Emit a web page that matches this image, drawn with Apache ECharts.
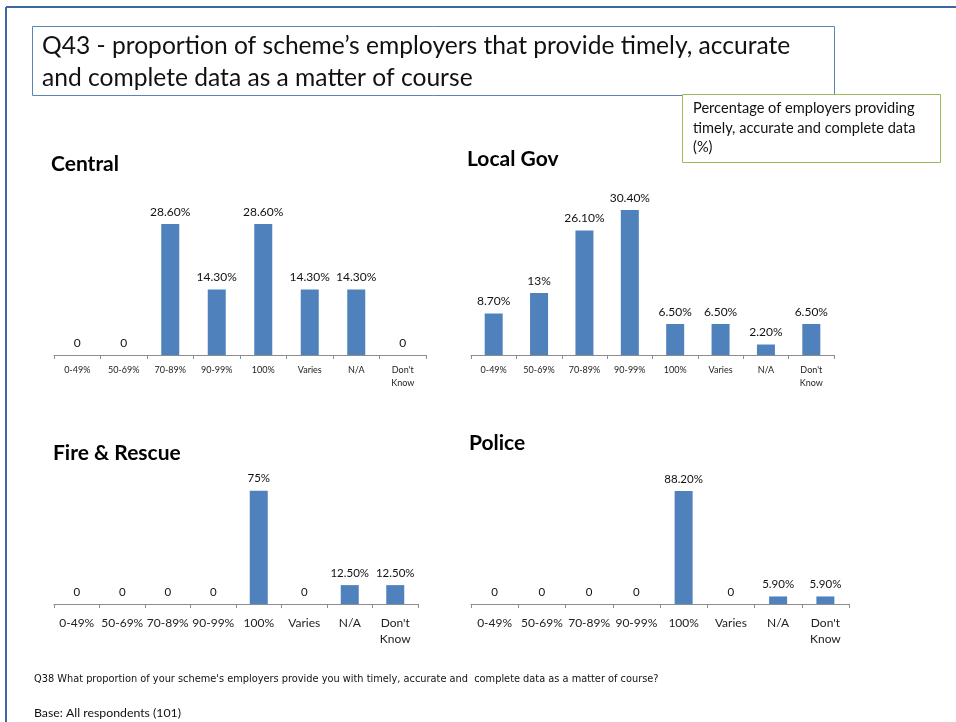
<!DOCTYPE html>
<html>
<head>
<meta charset="utf-8">
<script src="https://cdn.jsdelivr.net/npm/echarts@6/dist/echarts.min.js"></script>
<style>
html,body{margin:0;padding:0;background:#fff;}
#main{width:956px;height:722px;}
</style>
</head>
<body>
<div id="main"></div>
<script>
var categories = ['0-49%', '50-69%', '70-89%', '90-99%', '100%', 'Varies', 'N/A', "Don't\nKnow"];
var panelTitles = ['Central', 'Local Gov', 'Fire & Rescue', 'Police'];
var centralValues = [0, 0, 28.6, 14.3, 28.6, 14.3, 14.3, 0];
var localGovValues = [8.7, 13, 26.1, 30.4, 6.5, 6.5, 2.2, 6.5];
var fireRescueValues = [0, 0, 0, 0, 75, 0, 12.5, 12.5];
var policeValues = [0, 0, 0, 0, 88.2, 0, 5.9, 5.9];
var yMax = [30, 32, 80, 90];

var FONT = 'Lato, "Noto Sans", sans-serif';
var BLUE = '#4F81BD';

function fmt(p) {
  var v = p.value;
  if (v === 0) return '0';
  if (Math.round(v) === v) return v + '%';
  return v.toFixed(2) + '%';
}

// layout: [left, width, axisY, pxPerUnit, catFont, labelFont]
var layout = [
  [54, 372, 355, 4.58, 9, 12],
  [471, 363, 355, 4.77, 9, 12],
  [54, 364, 604, 1.51, 12, 11.5],
  [471, 378, 604, 1.28, 12, 11.5]
];
var seriesData = [centralValues, localGovValues, fireRescueValues, policeValues];

var grids = [], xAxes = [], yAxes = [], series = [];
layout.forEach(function (L, i) {
  var h = yMax[i] * L[3];
  grids.push({left: L[0], width: L[1], top: L[2] - h, height: h, containLabel: false});
  xAxes.push({
    type: 'category', gridIndex: i, data: categories,
    axisLine: {lineStyle: {color: '#8c8c8c', width: 1}},
    axisTick: {show: true, length: 4, lineStyle: {color: '#8c8c8c'}},
    axisLabel: {color: '#222', fontFamily: FONT, fontSize: L[4], margin: L[4] === 9 ? 9 : 11, lineHeight: L[4] === 9 ? 13 : 16, interval: 0}
  });
  yAxes.push({type: 'value', gridIndex: i, min: 0, max: yMax[i], show: false, splitLine: {show: false}});
  series.push({
    type: 'bar', xAxisIndex: i, yAxisIndex: i, data: seriesData[i], barWidth: 18,
    itemStyle: {color: BLUE},
    label: {show: true, position: 'top', distance: 6, formatter: fmt, color: '#111', fontFamily: FONT, fontSize: L[5]},
    silent: true, animation: false
  });
});

var titlePos = [[46, 149], [462, 144], [48, 438], [464, 428]];
var titles = panelTitles.map(function (t, i) {
  return {text: t, left: titlePos[i][0], top: titlePos[i][1], textStyle: {fontFamily: FONT, fontSize: 21, fontWeight: 'bold', color: '#000'}};
});

var option = {
  backgroundColor: '#fff',
  animation: false,
  title: titles,
  grid: grids,
  xAxis: xAxes,
  yAxis: yAxes,
  series: series,
  graphic: [
    {type: 'line', shape: {x1: 6, y1: 7, x2: 956, y2: 7}, style: {stroke: '#3E66A0', lineWidth: 2}},
    {type: 'line', shape: {x1: 6, y1: 7, x2: 6, y2: 722}, style: {stroke: '#3E66A0', lineWidth: 2}},
    {type: 'rect', shape: {x: 32.5, y: 26.5, width: 802, height: 69}, style: {fill: '#fff', stroke: '#5B83B8', lineWidth: 1}},
    {type: 'text', left: 42, top: 30, style: {text: 'Q43 - proportion of scheme\u2019s employers that provide timely, accurate\nand complete data as a matter of course', fontFamily: FONT, fontSize: 24.6, lineHeight: 32, fill: '#111'}},
    {type: 'rect', shape: {x: 682.5, y: 94.5, width: 258, height: 68}, style: {fill: '#fff', stroke: '#9BBB59', lineWidth: 1}},
    {type: 'text', left: 693, top: 99, style: {text: 'Percentage of employers providing\ntimely, accurate and complete data\n(%)', fontFamily: FONT, fontSize: 14.6, lineHeight: 19.5, fill: '#111'}},
    {type: 'text', left: 34, top: 674, style: {text: "Q38 What proportion of your scheme's employers provide you with timely, accurate and  complete data as a matter of course?", fontFamily: '"DejaVu Sans", sans-serif', fontSize: 9.8, fill: '#111'}},
    {type: 'text', left: 34, top: 707, style: {text: 'Base: All respondents (101)', fontFamily: FONT, fontSize: 12.3, fill: '#111'}}
  ]
};

var chart = echarts.init(document.getElementById('main'), null, {renderer: 'canvas'});
chart.setOption(option);
</script>
</body>
</html>
